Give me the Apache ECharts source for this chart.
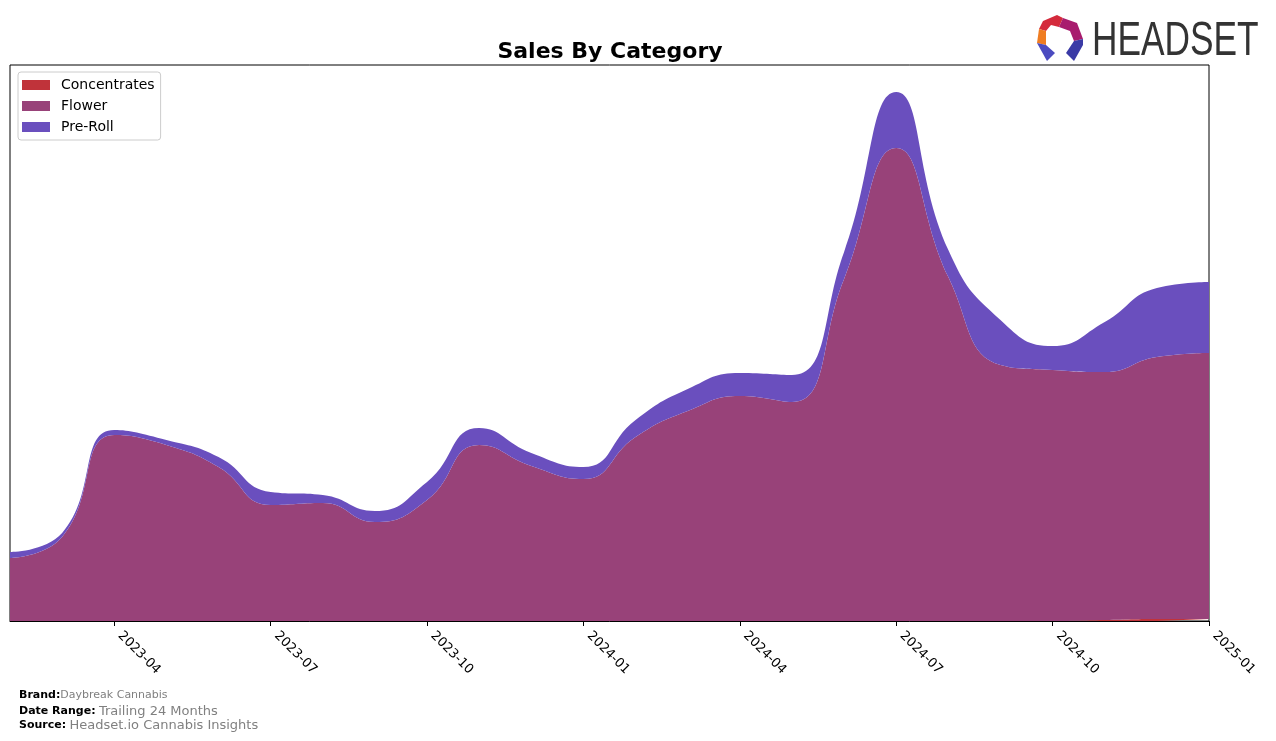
<!DOCTYPE html>
<html>
<head>
<meta charset="utf-8">
<script src="https://cdn.jsdelivr.net/npm/echarts@6/dist/echarts.min.js"></script>
<style>
html,body{margin:0;padding:0;background:#fff;}
#chart{width:1276px;height:741px;}
</style>
</head>
<body>
<div id="chart"></div>
<script>
const months = ['2023-02-01','2023-03-01','2023-04-01','2023-05-01','2023-06-01','2023-07-01',
  '2023-08-01','2023-09-01','2023-10-01','2023-11-01','2023-12-01','2024-01-01',
  '2024-02-01','2024-03-01','2024-04-01','2024-05-01','2024-06-01','2024-07-01',
  '2024-08-01','2024-09-01','2024-10-01','2024-11-01','2024-12-01','2025-01-01'];
const concentrates = [0,0,0,0,0,0,0,0,0,0,0,0,0,0,0,0,0,0,0,0,0,1,2,2];
const flower = [63,84,186,176,154,116,118,99,121,176,155,142,184,210,225,219,342,473,344,256,251,248,262,266];
const preRoll = [6,4,5,5,10,13,8,11,18,17,13,12,17,22,23,27,27,56,27,45,24,50,69,71];
const tickDates = ['2023-04-01','2023-07-01','2023-10-01','2024-01-01','2024-04-01','2024-07-01','2024-10-01','2025-01-01'];
const seriesNames = ['Concentrates','Flower','Pre-Roll'];
const seriesColors = ['#C0333A','#984279','#6A4FBE'];

const isTick = (idx, v) => tickDates.indexOf(v) >= 0;

const chart = echarts.init(document.getElementById('chart'), null, {renderer:'canvas'});
const values = [concentrates, flower, preRoll];
const series = seriesNames.map((name, i) => ({
  name: name,
  type: 'line',
  stack: 'total',
  smooth: 0.5,
  symbol: 'none',
  lineStyle: {width: 0},
  areaStyle: {color: seriesColors[i], opacity: 1},
  itemStyle: {color: seriesColors[i]},
  data: values[i]
}));

chart.setOption({
  animation: false,
  backgroundColor: '#fff',
  title: {
    text: 'Sales By Category',
    left: 605, top: 36, textAlign: 'center',
    textStyle: {fontFamily: 'DejaVu Sans', fontWeight: 'bold', fontSize: 22, color: '#000'}
  },
  legend: {
    orient: 'vertical', left: 18, top: 72,
    padding: [5, 6, 5, 4],
    itemWidth: 28, itemHeight: 10, itemGap: 5,
    backgroundColor: '#fff', borderColor: '#cccccc', borderWidth: 1, borderRadius: 3,
    textStyle: {fontFamily: 'DejaVu Sans', fontSize: 14, color: '#000', padding: [0,0,0,6], lineHeight: 16},
    data: seriesNames.map((n, i) => ({name: n, icon: 'rect', itemStyle: {color: seriesColors[i]}}))
  },
  grid: {
    left: 10, right: 67, top: 65, bottom: 120,
    show: true, borderColor: '#000', borderWidth: 1, backgroundColor: 'transparent'
  },
  xAxis: {
    type: 'category',
    data: months,
    boundaryGap: false,
    axisLine: {show: true, onZero: false, lineStyle: {color: '#000', width: 1}},
    axisTick: {show: true, length: 5, lineStyle: {color: '#000'}, interval: isTick},
    axisLabel: {
      interval: isTick, rotate: -45, margin: 7, padding: [0, 0, 0, 8],
      fontFamily: 'DejaVu Sans', fontSize: 13, color: '#000',
      formatter: v => v.slice(0, 7)
    },
    splitLine: {show: false}
  },
  yAxis: {
    type: 'value', min: 0, max: 556, show: false,
    splitLine: {show: false}
  },
  series: series,
  graphic: [
    {type: 'text', left: 19, top: 690, style: {
      text: '{b|Brand:}{g|Daybreak Cannabis}',
      rich: {b: {fontFamily: 'DejaVu Sans', fontWeight: 'bold', fontSize: 11, fill: '#000'},
             g: {fontFamily: 'DejaVu Sans', fontSize: 11, fill: '#808080'}}}},
    {type: 'text', left: 19, top: 705, style: {
      text: '{b|Date Range:} {g|Trailing 24 Months}',
      rich: {b: {fontFamily: 'DejaVu Sans', fontWeight: 'bold', fontSize: 11, fill: '#000'},
             g: {fontFamily: 'DejaVu Sans', fontSize: 13, fill: '#808080'}}}},
    {type: 'text', left: 19, top: 719, style: {
      text: '{b|Source:} {g|Headset.io Cannabis Insights}',
      rich: {b: {fontFamily: 'DejaVu Sans', fontWeight: 'bold', fontSize: 11, fill: '#000'},
             g: {fontFamily: 'DejaVu Sans', fontSize: 13, fill: '#808080'}}}},
    {type: 'group', left: 1037, top: 15, children: [
      {type: 'polygon', shape: {points: [[6,6],[20,0],[26,3],[22,12],[14,10],[9,16],[2,14]]}, style: {fill: '#D42A3C'}},
      {type: 'polygon', shape: {points: [[26,3],[40,8],[46,24],[37,26],[33,16],[22,12]]}, style: {fill: '#A81C6E'}},
      {type: 'polygon', shape: {points: [[2,14],[9,16],[9,30],[0,28]]}, style: {fill: '#EF7D22'}},
      {type: 'polygon', shape: {points: [[0,28],[9,30],[18,38],[10,46]]}, style: {fill: '#4B4BC0'}},
      {type: 'polygon', shape: {points: [[37,26],[46,24],[46,30],[37,46],[29,38]]}, style: {fill: '#3A3AA6'}}
    ]},
    {type: 'text', left: 1092, top: 17, scaleX: 0.72, style: {
      text: 'HEADSET', fontFamily: 'Liberation Sans', fontSize: 49, fill: '#333333'}}
  ]
});
</script>
</body>
</html>
